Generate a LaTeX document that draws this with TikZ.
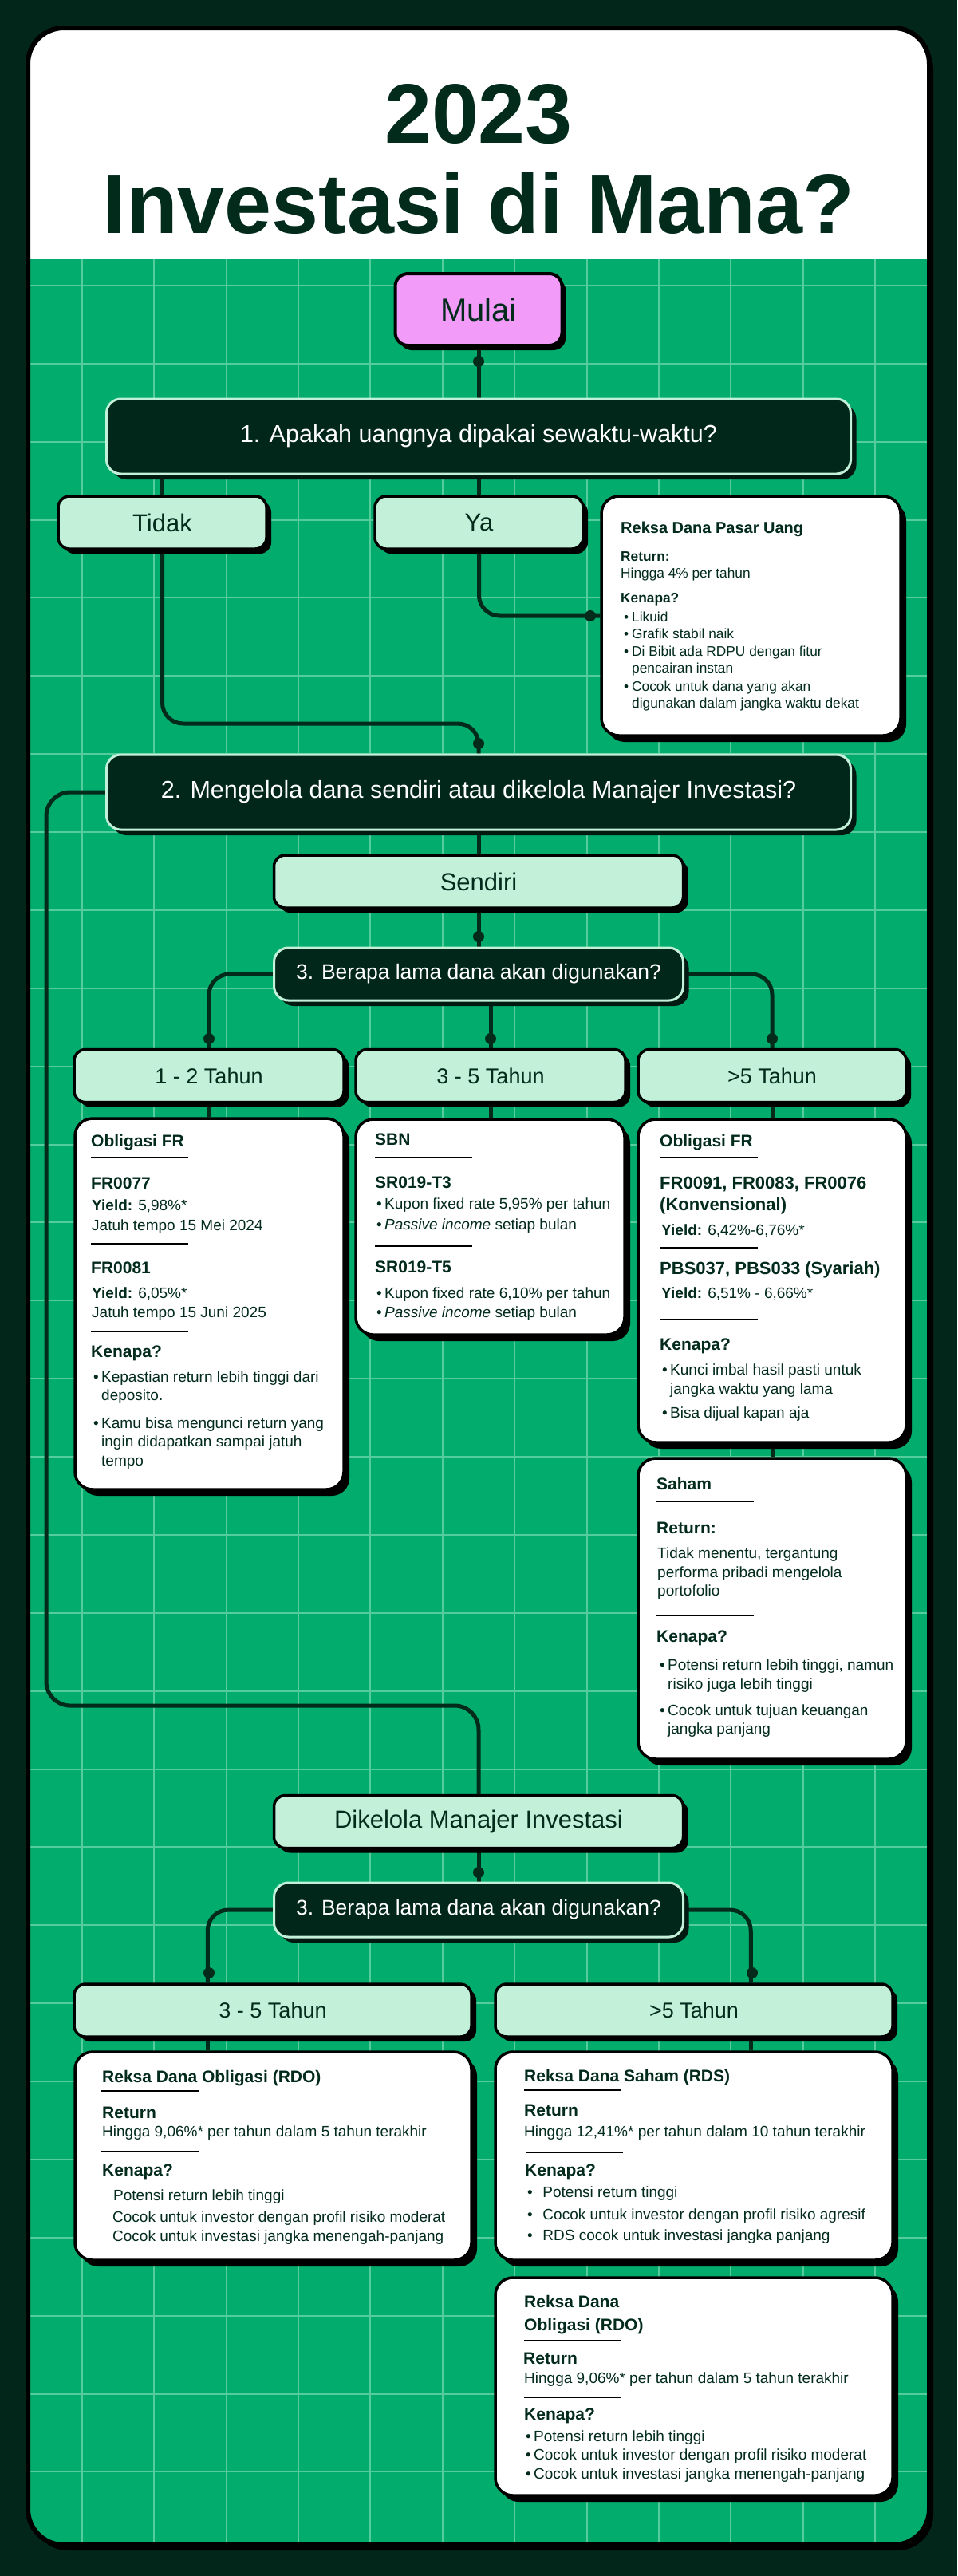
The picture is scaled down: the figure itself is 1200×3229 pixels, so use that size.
\documentclass[tikz,border=0pt]{standalone}
\usepackage{fontspec}
\setmainfont{Liberation Sans}
\usetikzlibrary{positioning,shadows}

\definecolor{ink}{HTML}{022B1C}
\definecolor{outerbg}{HTML}{03261A}
\definecolor{gridbg}{HTML}{02AC6D}
\definecolor{gridln}{HTML}{55CC9C}
\definecolor{mint}{HTML}{C2F0D9}
\definecolor{qfill}{HTML}{01261A}
\definecolor{qshade}{HTML}{011A11}
\definecolor{pinkfill}{HTML}{F29BF9}

\newcommand{\fsz}[1]{\fontsize{#1}{#1}\selectfont}
\newcommand{\hb}{\bfseries\fsz{21}}
\newcommand{\bu}[1][10pt]{\makebox[#1][l]{•}}

\pgfdeclarelayer{bg}
\pgfdeclarelayer{wires}
\pgfsetlayers{bg,wires,main}

\begin{document}
\begin{tikzpicture}[x=1pt, y=-1pt,
  wire/.style={line width=5pt, draw=ink, rounded corners=26pt},
  dot/.style={circle, fill=ink, inner sep=0pt, minimum size=14pt},
  start/.style={draw=black, line width=4pt, fill=pinkfill, rounded corners=16pt,
                minimum width=209pt, minimum height=90pt, text=ink, font=\fsz{40},
                drop shadow={shadow xshift=5pt, shadow yshift=-6pt, fill=black, opacity=1}},
  ques/.style={draw=mint, line width=3pt, fill=qfill, rounded corners=18pt, text=white,
               minimum width=933pt, minimum height=94pt, font=\fsz{30.5},
               drop shadow={shadow xshift=7pt, shadow yshift=-7pt, fill=qshade, opacity=1}},
  lbl/.style={draw=black, line width=3.5pt, fill=mint, rounded corners=14pt, text=ink,
              minimum height=66pt, font=\fsz{31},
              drop shadow={shadow xshift=6pt, shadow yshift=-6pt, fill=black, opacity=1}},
  info/.style={draw=black, line width=3.5pt, fill=white, rounded corners=22pt,
               drop shadow={shadow xshift=7pt, shadow yshift=-8pt, fill=black, opacity=1}},
  tx/.style={anchor=base west, inner sep=0pt, text=ink, font=\fsz{19}},
  sep/.style={line width=2.6pt, draw=black},
]
\useasboundingbox (0,0) rectangle (1200,3229);

% frame, header and grid
\begin{pgfonlayer}{bg}
  \fill[outerbg] (0,0) rectangle (1200,3229);
  \fill[black, rounded corners=45pt] (40,42) rectangle (1170,3197);
  \begin{scope}
    \clip[rounded corners=45pt] (35,35) rectangle (1165,3190);
    \fill[white] (35,35) rectangle (1165,325);
    \fill[gridbg] (35,325) rectangle (1165,3190);
    \foreach \i in {0,...,11}
      \draw[gridln, line width=2pt] (103+90.36*\i,325) -- (103+90.36*\i,3190);
    \foreach \j in {0,...,28}
      \draw[gridln, line width=2pt] (35,358+97.87*\j) -- (1165,358+97.87*\j);
  \end{scope}
  \draw[black, line width=6pt, rounded corners=45pt] (35,35) rectangle (1165,3190);
\end{pgfonlayer}

% title
\node[anchor=base, text=ink, font=\bfseries\fsz{106}] (year) at (600,179) {2023};
\node[anchor=base, text=ink, font=\bfseries\fsz{106}] (title) at (600,292) {Investasi di Mana?};

% decision nodes
\node[start] (mulai) at (600,388) {Mulai};
\node[ques] (q1) at (600,547) {1. Apakah uangnya dipakai sewaktu-waktu?};
\node[lbl, minimum width=261pt] (tidak) at (203.5,655) {Tidak};
\node[lbl, minimum width=261pt] (ya) at (600.5,655) {Ya};
\node[info, minimum width=375pt, minimum height=300pt] (rdpu) at (941.5,772) {};
\node[ques] (q2) at (600,993) {2. Mengelola dana sendiri atau dikelola Manajer Investasi?};
\node[lbl, minimum width=513pt] (sendiri) at (600,1105) {Sendiri};
\node[ques, minimum width=513pt, minimum height=66pt, font=\fsz{26.5}] (q3a) at (600,1221)
  {3. Berapa lama dana akan digunakan?};
\node[lbl, minimum width=338pt, font=\fsz{27}] (t12) at (262,1348.5) {1 - 2 Tahun};
\node[lbl, minimum width=338pt, font=\fsz{27}] (t35) at (615,1348.5) {3 - 5 Tahun};
\node[lbl, minimum width=336pt, font=\fsz{27}] (t5) at (968,1348.5) {>5 Tahun};
\node[info, minimum width=337pt, minimum height=465pt] (ofr1) at (262.5,1634.5) {};
\node[info, minimum width=337pt, minimum height=270pt] (sbn) at (614.5,1538) {};
\node[info, minimum width=336pt, minimum height=405pt] (ofr2) at (968,1605.5) {};
\node[info, minimum width=336pt, minimum height=377pt] (saham) at (968,2016.5) {};
\node[lbl, minimum width=513pt] (mgr) at (600,2283.5) {Dikelola Manajer Investasi};
\node[ques, minimum width=513pt, minimum height=68pt, font=\fsz{26.5}] (q3b) at (600,2394)
  {3. Berapa lama dana akan digunakan?};
\node[lbl, minimum width=498pt, font=\fsz{27}] (b35) at (342,2520) {3 - 5 Tahun};
\node[lbl, minimum width=498pt, font=\fsz{27}] (b5) at (870,2520) {>5 Tahun};
\node[info, minimum width=497pt, minimum height=261pt] (rdo1) at (342.5,2702.5) {};
\node[info, minimum width=498pt, minimum height=261pt] (rds) at (870,2702.5) {};
\node[info, minimum width=498pt, minimum height=273pt] (rdo2) at (870,2991.5) {};

\coordinate (tjoin) at (600,907);
\coordinate (lbend) at (58,2138);

% connectors
\begin{pgfonlayer}{wires}
  \draw[wire] (mulai.south) -- (q1.north);
  \draw[wire] (tidak.north |- q1.south) -- (tidak.north);
  \draw[wire] (ya.north |- q1.south) -- (ya.north);
  \draw[wire] (ya.south) |- (rdpu.west);
  \draw[wire] (tidak.south) |- (tjoin) -- (q2.north);
  \draw[wire, rounded corners=30pt] (q2.west) -| (lbend) -| (mgr.north);
  \draw[wire] (q2.south) -- (sendiri.north);
  \draw[wire] (sendiri.south) -- (q3a.north);
  \draw[wire] (q3a.west) -| (t12.north);
  \draw[wire] (t35.north |- q3a.south) -- (t35.north);
  \draw[wire] (q3a.east) -| (t5.north);
  \draw[wire] (t12.south) -- (ofr1.north);
  \draw[wire] (t35.south) -- (t35.south |- sbn.north);
  \draw[wire] (t5.south) -- (ofr2.north);
  \draw[wire] (ofr2.south) -- (saham.north);
  \draw[wire] (mgr.south) -- (q3b.north);
  \draw[wire] (q3b.west) -| ([xshift=169pt]b35.north west);
  \draw[wire] (q3b.east) -| ([xshift=322pt]b5.north west);
  \draw[wire] ([xshift=169pt]b35.south west) -- ([xshift=169pt]b35.south west |- rdo1.north);
  \draw[wire] ([xshift=322pt]b5.south west) -- ([xshift=322pt]b5.south west |- rds.north);
\end{pgfonlayer}

% joints
\node[dot] (dmul) at (600,453) {};
\node[dot] (dya) at (740,772) {};
\node[dot] (dq2) at (600,932) {};
\node[dot] (dq3a) at (600,1174) {};
\node[dot] (dt12) at (262,1302) {};
\node[dot] (dt35) at (615,1302) {};
\node[dot] (dt5) at (968,1302) {};
\node[dot] (dq3b) at (600,2347) {};
\node[dot] (db35) at (262,2473) {};
\node[dot] (db5) at (943,2473) {};

% Reksa Dana Pasar Uang
\foreach \x/\y/\t in {778/668/{\bfseries\fsz{20}Reksa Dana Pasar Uang},
    778/703/{\bfseries Return:}, 778/724/{Hingga 4\% per tahun},
    778/755/{\bfseries Kenapa?}, 782/779/{\bu Likuid}, 782/800/{\bu Grafik stabil naik},
    782/822/{\bu Di Bibit ada RDPU dengan fitur}, 792/843/{pencairan instan},
    782/866/{\bu Cocok untuk dana yang akan}, 792/887/{digunakan dalam jangka waktu dekat}}
  \node[tx, font=\fsz{17.3}] (rdpu\y) at (\x,\y) {\t};

% Obligasi FR, 1 - 2 tahun
\foreach \x/\y/\t in {114/1437/{\hb Obligasi FR}, 114/1490/{\hb FR0077},
    115/1517/{\textbf{Yield:} 5,98\%*}, 115/1542/{Jatuh tempo 15 Mei 2024},
    114/1596/{\hb FR0081}, 115/1627/{\textbf{Yield:} 6,05\%*},
    115/1651/{Jatuh tempo 15 Juni 2025}, 114/1701/{\hb Kenapa?},
    117/1732/{\bu Kepastian return lebih tinggi dari}, 127/1755/{deposito.},
    117/1790/{\bu Kamu bisa mengunci return yang}, 127/1813/{ingin didapatkan sampai jatuh},
    127/1837/{tempo}}
  \node[tx] (ofra\y) at (\x,\y) {\t};
\foreach \y in {1451,1559,1669} \draw[sep] (114,\y) -- ++(122,0);

% SBN
\foreach \x/\y/\t in {470/1435/{\hb SBN}, 470/1489/{\hb SR019-T3},
    472/1515/{\bu Kupon fixed rate 5,95\% per tahun},
    472/1541/{\bu \emph{Passive income} setiap bulan}, 470/1595/{\hb SR019-T5},
    472/1627/{\bu Kupon fixed rate 6,10\% per tahun},
    472/1651/{\bu \emph{Passive income} setiap bulan}}
  \node[tx] (sbn\y) at (\x,\y) {\t};
\foreach \y in {1451,1562} \draw[sep] (470,\y) -- ++(122,0);

% Obligasi FR, >5 tahun
\foreach \x/\y/\t in {827/1437/{\hb Obligasi FR},
    827/1490/{\bfseries\fsz{22}FR0091, FR0083, FR0076}, 827/1517/{\bfseries\fsz{22}(Konvensional)},
    829/1548/{\textbf{Yield:} 6,42\%-6,76\%*},
    827/1597/{\bfseries\fsz{22}PBS037, PBS033 (Syariah)},
    829/1627/{\textbf{Yield:} 6,51\% - 6,66\%*}, 827/1692/{\hb Kenapa?},
    830/1723/{\bu Kunci imbal hasil pasti untuk}, 840/1747/{jangka waktu yang lama},
    830/1777/{\bu Bisa dijual kapan aja}}
  \node[tx] (ofrb\y) at (\x,\y) {\t};
\foreach \y in {1451,1564,1654} \draw[sep] (828,\y) -- ++(122,0);

% Saham
\foreach \x/\y/\t in {823/1867/{\hb Saham}, 823/1922/{\hb Return:},
    824/1953/{Tidak menentu, tergantung}, 824/1977/{performa pribadi mengelola},
    824/2000/{portofolio}, 823/2058/{\hb Kenapa?},
    827/2093/{\bu Potensi return lebih tinggi, namun}, 837/2117/{risiko juga lebih tinggi},
    827/2150/{\bu Cocok untuk tujuan keuangan}, 837/2173/{jangka panjang}}
  \node[tx] (sh\y) at (\x,\y) {\t};
\foreach \y in {1882,2025} \draw[sep] (823,\y) -- ++(122,0);

% RDO, 3 - 5 tahun
\foreach \x/\y/\t in {128/2610/{\hb Reksa Dana Obligasi (RDO)}, 128/2655/{\hb Return},
    128/2678/{Hingga 9,06\%* per tahun dalam 5 tahun terakhir}, 128/2727/{\hb Kenapa?},
    142/2758/{Potensi return lebih tinggi},
    141/2785/{Cocok untuk investor dengan profil risiko moderat},
    141/2809/{Cocok untuk investasi jangka menengah-panjang}}
  \node[tx] (rdoa\y) at (\x,\y) {\t};
\foreach \y in {2621,2697} \draw[sep] (127,\y) -- ++(122,0);

% RDS
\foreach \x/\y/\t in {657/2609/{\hb Reksa Dana Saham (RDS)}, 657/2652/{\hb Return},
    657/2678/{Hingga 12,41\%* per tahun dalam 10 tahun terakhir}, 658/2727/{\hb Kenapa?},
    661/2754/{\bu[14pt] Potensi return tinggi},
    661/2782/{\bu[14pt] Cocok untuk investor dengan profil risiko agresif},
    661/2808/{\bu[14pt] RDS cocok untuk investasi jangka panjang}}
  \node[tx] (rds\y) at (\x,\y) {\t};
\draw[sep] (657,2620) -- ++(122,0);
\draw[sep] (659,2698) -- ++(122,0);

% RDO, >5 tahun
\foreach \x/\y/\t in {657/2892/{\hb Reksa Dana}, 657/2921/{\hb Obligasi (RDO)},
    656/2963/{\hb Return},
    657/2987/{Hingga 9,06\%* per tahun dalam 5 tahun terakhir}, 657/3033/{\hb Kenapa?},
    659/3060/{\bu Potensi return lebih tinggi},
    659/3083/{\bu Cocok untuk investor dengan profil risiko moderat},
    659/3107/{\bu Cocok untuk investasi jangka menengah-panjang}}
  \node[tx] (rdob\y) at (\x,\y) {\t};
\foreach \y in {2934,3005} \draw[sep] (657,\y) -- ++(122,0);
\end{tikzpicture}
\end{document}
